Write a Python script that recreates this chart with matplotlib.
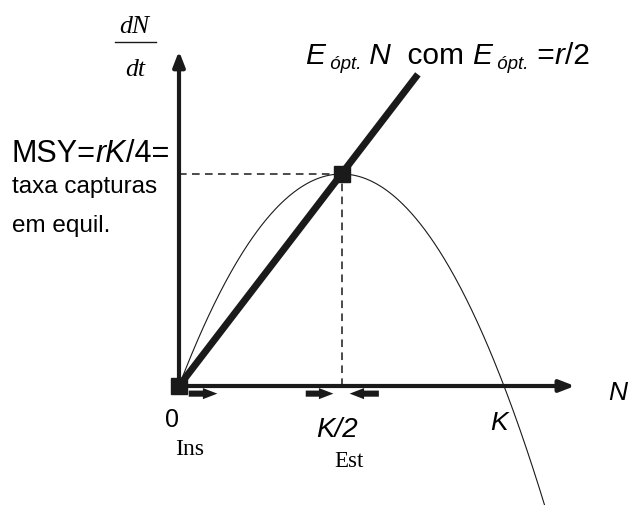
import numpy as np
import matplotlib
matplotlib.use('Agg')
import matplotlib.pyplot as plt
from matplotlib.lines import Line2D

# logistic growth with harvest at optimal effort (K = 1, r = 1)
r = 1.0
K = 1.0
E_opt = r / 2
N_curve = np.linspace(0, 1.14, 400)
growth = r * N_curve * (1 - N_curve / K)
N_line = [0, 0.735]
harvest = [E_opt * n for n in N_line]
N_msy = K / 2
msy = r * K / 4

# small stability arrows under the N axis: (start, end)
flow_arrows = [(0.03, 0.118), (0.39, 0.475), (0.615, 0.525)]

W, H = 631, 506
fig = plt.figure(figsize=(W / 100, H / 100), dpi=100)
ax = fig.add_axes([0, 0, 1, 1])
ax.set_xlim(-179 / 325, (W - 179) / 325)
ax.set_ylim((387 - H) / 848, 387 / 848)
ax.axis('off')

sans = 'Liberation Sans'
serif = 'Liberation Serif'
ink = '#1a1a1a'


def px(x, y):
    return x / W, 1 - y / H


# axes with arrow heads
ax.annotate('', xy=(0, 0.395), xytext=(0, 0),
            arrowprops=dict(arrowstyle='-|>,head_length=0.9,head_width=0.35',
                            lw=3, color=ink, shrinkA=0, shrinkB=0))
ax.annotate('', xy=(1.218, 0), xytext=(-0.005, 0),
            arrowprops=dict(arrowstyle='-|>,head_length=0.9,head_width=0.35',
                            lw=3, color=ink, shrinkA=0, shrinkB=0))

# growth curve and harvest line
ax.plot(N_curve, growth, color=ink, lw=0.8)
ax.plot(N_line, harvest, color=ink, lw=5, solid_capstyle='butt')

# MSY guides
ax.plot([0, N_msy], [msy, msy], color=ink, lw=1.1, ls=(0, (5, 3.5)))
ax.plot([N_msy, N_msy], [0, msy], color=ink, lw=1.1, ls=(0, (5, 3.5)))

# equilibria
ax.plot([0, N_msy], [0, msy], ls='none', marker='s', ms=11, color=ink)

for a, b in flow_arrows:
    ax.annotate('', xy=(b, -0.009), xytext=(a, -0.009),
                arrowprops=dict(arrowstyle='simple,head_length=1.3,head_width=1.0,tail_width=0.55',
                                mutation_scale=8, color=ink, lw=0,
                                shrinkA=0, shrinkB=0))
    # white notch where the shaft meets the head
    d = np.sign(b - a)
    base = b - d * 0.05
    ax.plot([base - d * 0.004, base + d * 0.012], [-0.009, -0.009], color='white', lw=1.3,
            solid_capstyle='butt')

# dN/dt label
fig.text(*px(134, 33), 'dN', family=serif, style='italic', size=18.5, ha='center', va='baseline')
fig.add_artist(Line2D([115 / W, 156 / W], [1 - 43 / H] * 2, color=ink, lw=1.0,
                      transform=fig.transFigure))
fig.text(*px(135, 76), 'dt', family=serif, style='italic', size=18.5, ha='center', va='baseline')


def text_row(x, y, pieces):
    # lay out pieces left to right on a common baseline (y in pixels from top)
    renderer = fig.canvas.get_renderer()
    for s, size, style, dy in pieces:
        t = fig.text(*px(x, y + dy), s, family=sans, style=style, size=size,
                     ha='left', va='baseline')
        x += t.get_window_extent(renderer).width


text_row(305, 64, [('E', 21.5, 'italic', 0), (' ópt.', 13.5, 'italic', 5), (' N', 21.5, 'italic', 0),
                   ('  com ', 21.5, 'normal', 0), ('E', 21.5, 'italic', 0),
                   (' ópt.', 13.5, 'italic', 5), (' =', 21.5, 'normal', 0), ('r', 21.5, 'italic', 0),
                   ('/2', 21.5, 'normal', 0)])
text_row(12, 162, [('MSY=', 22, 'normal', 0), ('rK', 22, 'italic', 0), ('/4=', 22, 'normal', 0)])
fig.text(*px(12, 193), 'taxa capturas', family=sans, size=17.5, va='baseline')
fig.text(*px(12, 232), 'em equil.', family=sans, size=17.5, va='baseline')

# axis labels
fig.text(*px(172, 427), '0', family=sans, size=18, ha='center', va='baseline')
fig.text(*px(175, 455), 'Ins', family=serif, size=17, va='baseline')
fig.text(*px(316, 437), 'K/2', family=sans, style='italic', size=20, va='baseline')
fig.text(*px(334, 467), 'Est', family=serif, size=16.5, va='baseline')
fig.text(*px(499, 430), 'K', family=sans, style='italic', size=19, ha='center', va='baseline')
fig.text(*px(618, 400), 'N', family=sans, style='italic', size=19, ha='center', va='baseline')

fig.savefig('out.png', dpi=100)
